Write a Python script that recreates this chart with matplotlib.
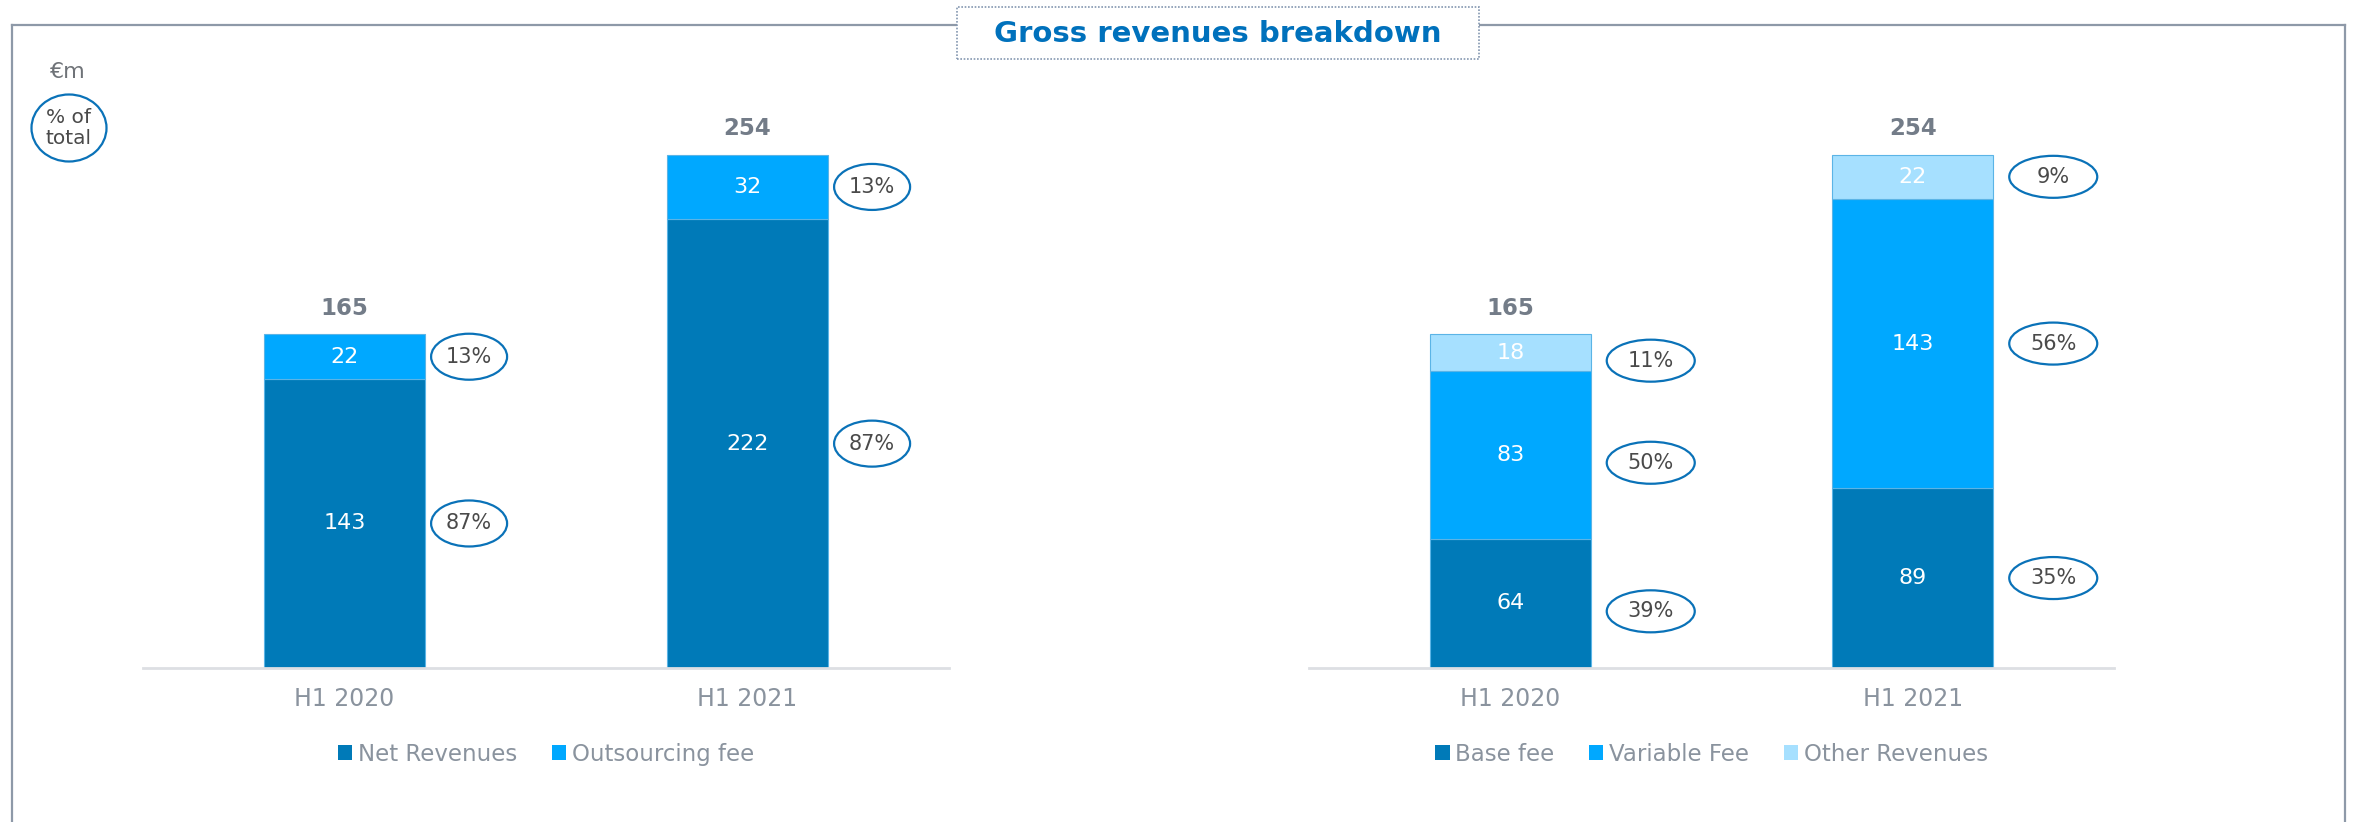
import numpy as np
import matplotlib
matplotlib.use('Agg')
import matplotlib.pyplot as plt
from matplotlib.patches import Ellipse, Rectangle
from matplotlib.transforms import ScaledTranslation
from matplotlib.lines import Line2D

# ---------------- data ----------------
periods = ['H1 2020', 'H1 2021']

left_series = ['Net Revenues', 'Outsourcing fee']
left_values = [[143, 222], [22, 32]]
left_pcts = [['87%', '87%'], ['13%', '13%']]
left_totals = [165, 254]

right_series = ['Base fee', 'Variable Fee', 'Other Revenues']
right_values = [[64, 89], [83, 143], [18, 22]]
right_pcts = [['39%', '35%'], ['50%', '56%'], ['11%', '9%']]
right_totals = [165, 254]

title = 'Gross revenues breakdown'
unit_label = '€m'
pct_label = '% of\ntotal'

# ---------------- style ----------------
W, H, DPI = 2354, 822, 100
C_DARK, C_MID, C_LIGHT = '#007AB8', '#00A8FF', '#A6E0FF'
EDGE = '#5BB4E6'
ELL = '#0A72B8'
GRAY_TXT = '#8A939E'
TOT_TXT = '#737C88'
PCT_TXT = '#4A4A4A'
FRAME = '#8E99A8'

fig = plt.figure(figsize=(W / DPI, H / DPI), dpi=DPI)


def px_rect(x0, y0, x1, y1):
    return [x0 / W, 1 - y1 / H, (x1 - x0) / W, (y1 - y0) / H]


def fx(x):
    return x / W


def fy(y):
    return 1 - y / H


AX_TOP, AX_BOT = 90, 668
axL = fig.add_axes(px_rect(143, AX_TOP, 949, AX_BOT))
axR = fig.add_axes(px_rect(1309, AX_TOP, 2114, AX_BOT))
YMAX = (AX_BOT - AX_TOP) / 2.0213


def draw(ax, series, values, pcts, totals, colors, ell_w, ell_h, ell_dx, ell_dy):
    x = np.arange(len(periods))
    bottom = np.zeros(len(periods))
    handles = []
    for i, (name, vals) in enumerate(zip(series, values)):
        vals = np.array(vals, dtype=float)
        b = ax.bar(x, vals, 0.4, bottom=bottom, color=colors[i], edgecolor=EDGE,
                   linewidth=0.8, zorder=2)
        handles.append(Rectangle((0, 0), 1, 1, facecolor=colors[i], edgecolor='none', label=name))
        mids = bottom + vals / 2
        for j in range(len(x)):
            ax.text(x[j], mids[j], f'{vals[j]:.0f}', ha='center', va='center',
                    color='white', fontsize=16, zorder=3)
            tr = fig.dpi_scale_trans + ScaledTranslation(x[j] + 0.2, mids[j], ax.transData)
            e = Ellipse((ell_dx / DPI, ell_dy[j] / DPI), ell_w / DPI, ell_h / DPI,
                        transform=tr, facecolor='white', edgecolor=ELL, lw=1.6,
                        clip_on=False, zorder=3)
            ax.add_artist(e)
            ax.annotate(pcts[i][j], (x[j] + 0.2, mids[j]),
                        xytext=(ell_dx * 72 / DPI, ell_dy[j] * 72 / DPI),
                        textcoords='offset points', ha='center', va='center',
                        fontsize=15, color=PCT_TXT, zorder=4, annotation_clip=False)
        bottom = bottom + vals
    for j, t in enumerate(totals):
        ax.annotate(f'{t}', (x[j], t), xytext=(0, 19), textcoords='offset points',
                    ha='center', va='center', fontsize=16.5, fontweight='bold',
                    color=TOT_TXT, annotation_clip=False)
    ax.set_xlim(-0.5, 1.5)
    ax.set_ylim(0, YMAX)
    ax.set_yticks([])
    ax.set_xticks(x, periods)
    ax.tick_params(axis='x', length=0, pad=14, labelsize=17, labelcolor=GRAY_TXT)
    for s in ['top', 'left', 'right']:
        ax.spines[s].set_visible(False)
    ax.spines['bottom'].set_color('#DDDFE3')
    ax.spines['bottom'].set_linewidth(2)
    ax.patch.set_alpha(0)
    ax.legend(handles=handles, loc='center',
              bbox_to_anchor=(0.5, (AX_BOT - 754) / (AX_BOT - AX_TOP)),
              ncol=len(handles), frameon=False, fontsize=16.5,
              handlelength=0.63, handleheight=0.63, handletextpad=0.25,
              columnspacing=1.5, labelcolor=GRAY_TXT)


draw(axL, left_series, left_values, left_pcts, left_totals, [C_DARK, C_MID],
     76, 46, 44, [0, 0])
draw(axR, right_series, right_values, right_pcts, right_totals, [C_DARK, C_MID, C_LIGHT],
     88, 42, 60, [-8, 0])

# ---------------- frame & title ----------------
lw_frame = 1.6
fig.add_artist(Line2D([fx(12), fx(2345)], [fy(25.5), fy(25.5)], color=FRAME, lw=lw_frame, zorder=1))
fig.add_artist(Line2D([fx(12), fx(12)], [fy(25.5), 0], color=FRAME, lw=lw_frame, zorder=1))
fig.add_artist(Line2D([fx(2345), fx(2345)], [fy(25.5), 0], color=FRAME, lw=lw_frame, zorder=1))

box = Rectangle((fx(956.7), fy(59)), fx(1478.5) - fx(956.7), fy(7.3) - fy(59),
                transform=fig.transFigure, facecolor='white', edgecolor='#8497B0',
                linestyle=(0, (1, 1)), lw=1.2, zorder=5)
fig.add_artist(box)
fig.text(fx(1217.6), fy(34), title, ha='center', va='center', fontsize=21,
         fontweight='bold', color='#0071BC', zorder=6)

fig.text(fx(68), fy(72), unit_label, ha='center', va='center', fontsize=16, color='#6F7378')
circ = Ellipse((fx(69), fy(128)), 75 / W, 67 / H, transform=fig.transFigure,
               facecolor='white', edgecolor=ELL, lw=1.6, zorder=5)
fig.add_artist(circ)
fig.text(fx(69), fy(128), pct_label, ha='center', va='center', fontsize=14.5,
         color=PCT_TXT, linespacing=1.15, zorder=6)

fig.savefig('out.png', dpi=DPI)
